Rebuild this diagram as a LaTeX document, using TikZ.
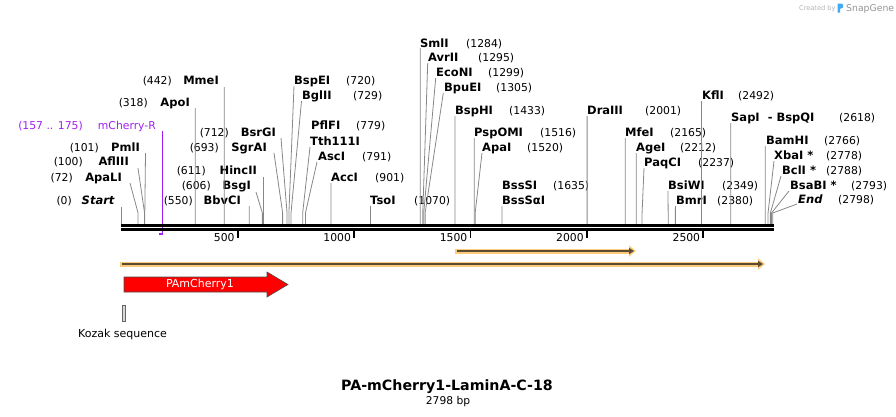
\documentclass[tikz,border=0pt]{standalone}
\usepackage{fontspec}
\setmainfont{DejaVu Sans}
\usetikzlibrary{arrows.meta,positioning,calc}
\definecolor{primerpurple}{RGB}{160,32,240}
\definecolor{featureorange}{RGB}{250,204,122}
\definecolor{featuredark}{RGB}{92,74,50}
\definecolor{cutgray}{RGB}{135,135,135}
\definecolor{logoblue}{RGB}{66,170,245}
\newcommand{\bpx}[1]{121.3+0.2328*#1}

\begin{document}
\begin{tikzpicture}[x=1pt,y=-1pt,
    enz/.style={font=\fontsize{11.5}{13}\selectfont\bfseries, inner sep=0pt},
    num/.style={font=\fontsize{10.8}{13}\selectfont, inner sep=0pt},
    cut/.style={draw=cutgray, line width=0.8pt},
    tick/.style={line width=1.8pt},
    backbone/.style={line width=2.6pt}]
\useasboundingbox (0,0) rectangle (896,416);

% sites labelled on the left
\foreach \nm/\num/\nx/\mx/\ly/\bp/\sx/\sy in {
    {\textit{Start}}/0/115/72/200/0/121.3/207,
    ApaLI/72/122/73/177/72/130/183,
    AflIII/100/129/83/161/100/138/168,
    PmlI/101/140/99/147/101/145.5/153,
    BbvCI/550/241/193/200/550/249.3/206,
    BsgI/606/251/211/185/606/256/192,
    HincII/611/257/206/170/611/263.5/177,
    SgrAI/693/267/219/147/693/274/153,
    BsrGI/712/276/229/132/712/281/138,
    ApoI/318/190/148/102/318/195.3/108,
    MmeI/442/219/172/80/442/224.2/87}
{
    \node[enz, anchor=base east] (n\bp) at (\nx,\ly+4) {\nm};
    \node[num, anchor=base east] (p\bp) at (\mx,\ly+4) {(\num)};
    \coordinate (s\bp) at (\sx,\sy);
    \coordinate (k\bp) at ({\bpx{\bp}},213);
    \coordinate (b\bp) at ({\bpx{\bp}},224);
    \draw[cut] (s\bp) -- (k\bp) -- (b\bp);
}

% sites labelled on the right
\foreach \nm/\num/\nx/\mx/\ly/\bp/\sx/\sy in {
    BspEI/720/294/346/80/720/294/86,
    BglII/729/302/353/95/729/301.5/101,
    PflFI/779/311/356/125/779/310/147,
    AscI/791/318/362/156/791/317/162,
    AccI/901/331/375/177/901/331/183,
    TsoI/1070/370/414/200/1070/370.4/206,
    SmlI/1284/420/466/43/1284/420.3/48,
    AvrII/1295/428/478/57/1295/427.7/63,
    EcoNI/1299/436/488/72/1299/435.7/78,
    BpuEI/1305/444/496/87/1305/443.3/93,
    BspHI/1433/455/509/110/1433/454.9/116,
    PspOMI/1516/474/540/132/1516/474.2/138,
    ApaI/1520/482/527/147/1520/482/153,
    BssSI/1635/502/553/185/1635/501.9/206,
    DraIII/2001/587/645/110/2001/587.1/116,
    MfeI/2165/625/670/132/2165/625.3/138,
    AgeI/2212/636/680/147/2212/636.3/153,
    PaqCI/2237/644/698/162/2237/644/168,
    BsiWI/2349/668/722/185/2349/668/191,
    BmrI/2380/676/717/200/2380/675.4/206,
    KflI/2492/702/738/95/2492/701.4/101,
    {SapI\hspace{8pt}-\hspace{4pt}BspQI}/2618/731/839/117/2618/730.8/123,
    BamHI/2766/766/824/140/2766/765.2/146,
    {XbaI *}/2778/774/826/155/2778/774/161,
    {BclI *}/2788/782/826/170/2788/781/176,
    {BsaBI *}/2793/790/851/185/2793/789/191,
    {\textit{End}}/2798/798/838/199/2798/797/204}
{
    \node[enz, anchor=base west] (n\bp) at (\nx,\ly+4) {\nm};
    \node[num, anchor=base west] (p\bp) at (\mx,\ly+4) {(\num)};
    \coordinate (s\bp) at (\sx,\sy);
    \coordinate (k\bp) at ({\bpx{\bp}},213);
    \coordinate (b\bp) at ({\bpx{\bp}},224);
    \draw[cut] (s\bp) -- (k\bp) -- (b\bp);
}
% second names on the same site
\node[enz, anchor=base west] (n779b) at (310,145) {Tth111I};
\node[enz, anchor=base west] (n1635b) at (502,204) {BssSαI};

% primer
\node[num, text=primerpurple, anchor=base east] (mcr) at (156,129) {mCherry-R};
\node[num, text=primerpurple, anchor=base east] (mcrpos) at (83,129) {(157 .. 175)};
\coordinate (mtop) at (162.3,131);
\coordinate (mbot) at (162.3,234.5);
\draw[primerpurple, line width=1.4pt] (mtop) -- (mbot);
\fill[primerpurple] (158.5,232.6) rectangle (162,234.8);

% backbone and ruler
\coordinate (seqa) at (121,225.2);
\coordinate (seqb) at (774,225.2);
\draw[backbone] (seqa) -- (seqb);
\draw[backbone] ([yshift=-4.2pt]seqa) -- ([yshift=-4.2pt]seqb);
\foreach \t in {500,1000,1500,2000,2500}{
    \coordinate (t\t) at ({\bpx{\t}},229.5);
    \draw[tick] (t\t) -- ++(0,8.5);
    \node[num, anchor=base east] (tl\t) at ($(t\t)+(-3,11.5)$) {\t};
}

% features
\coordinate (f1a) at (455,251);
\coordinate (f1b) at (636,251);
\draw[featureorange, line width=5pt, -{Triangle[length=7pt,width=11pt]}] (f1a) -- (f1b);
\draw[featuredark, line width=2pt, -{Triangle[length=5pt,width=6pt]}] ([xshift=2pt]f1a) -- ([xshift=-2pt]f1b);
\coordinate (f2a) at (120,264);
\coordinate (f2b) at (765,264);
\draw[featureorange, line width=5pt, -{Triangle[length=7pt,width=11pt]}] (f2a) -- (f2b);
\draw[featuredark, line width=2pt, -{Triangle[length=5pt,width=6pt]}] ([xshift=2pt]f2a) -- ([xshift=-2pt]f2b);

% PAmCherry1
\draw[draw=black!70, fill=red, line width=0.6pt] (124,277) -- (267,277) -- (267,272) -- (288,284.5) -- (267,297) -- (267,292) -- (124,292) -- cycle;
\node[font=\fontsize{11}{13}\selectfont, text=white] (pam) at (200,284.5) {PAmCherry1};

% Kozak
\draw[draw=black!60, fill=black!15, line width=0.6pt] (122.3,305.5) rectangle (125,321.5);
\node[font=\fontsize{11}{13}\selectfont] (kozak) at (122.5,334) {Kozak sequence};

% title
\node[font=\fontsize{14.2}{16}\selectfont\bfseries, anchor=base] (title) at (447,390) {PA-mCherry1-LaminA-C-18};
\node[font=\fontsize{10.7}{12}\selectfont, anchor=base] (len) at (448,404.5) {2798 bp};

% credit
\node[font=\fontsize{6.6}{8}\selectfont, text=black!30, anchor=base west, inner sep=0pt] (created) at (799,10.3) {Created by};
\fill[logoblue] (837.5,12.5) -- (837.5,3.5) -- (841,3.5) .. controls (844,3.5) and (844,8.5) .. (841,8.5) -- (840,8.5) -- (840,12.5) -- cycle;
\node[font=\fontsize{9.3}{10}\selectfont, text=black!42, anchor=base west, inner sep=0pt] (snapgene) at (846,11.3) {SnapGene};
\end{tikzpicture}
\end{document}
